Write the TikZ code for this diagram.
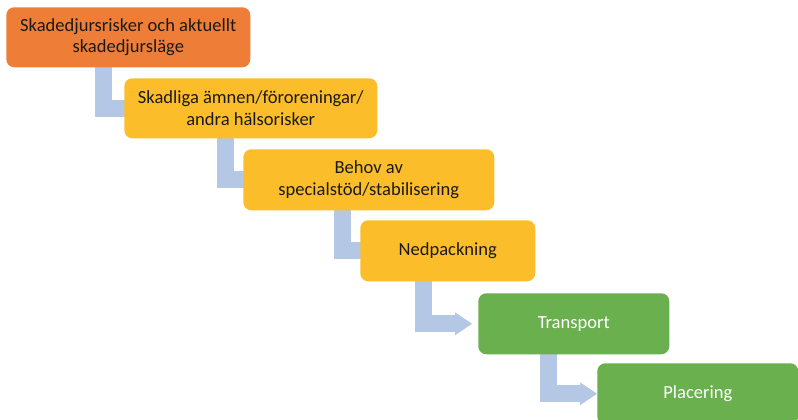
\documentclass[tikz,border=0pt]{standalone}
\usepackage{fontspec}
\setmainfont{Carlito}
\usepackage{tikz}
\usetikzlibrary{arrows.meta,backgrounds}

\definecolor{stepOrange}{HTML}{EE7D37}
\definecolor{stepYellow}{HTML}{FBBE2A}
\definecolor{stepGreen}{HTML}{6BB04F}
\definecolor{stepText}{HTML}{1A1A1A}
\definecolor{connBlue}{HTML}{B4C8E6}

\tikzset{
  stepbox/.style={draw=none, rounded corners=6pt, inner sep=0.75pt, align=center,
    anchor=north west, text=stepText, minimum height=45.75pt,
    font=\fontsize{13.9pt}{16pt}\selectfont},
  bentarrow/.style={draw=connBlue, line width=12.75pt, line join=miter,
    -{Triangle[length=12.75pt,width=17.25pt,line width=0pt]}},
}

\begin{document}
\begin{tikzpicture}[x=0.75pt,y=0.75pt,yscale=-1,xscale=1]
\clip (0,0) rectangle (798,420);

%Rounded Rect
\node [stepbox, fill=stepOrange, minimum width=183pt, minimum height=45pt] (risker) at (6,7) {Skadedjursrisker och aktuellt\\skadedjursläge};
%Rounded Rect
\node [stepbox, fill=stepYellow, minimum width=189.75pt, minimum height=45pt] (amnen) at (124,78) {Skadliga ämnen/föroreningar/\\andra hälsorisker};
%Rounded Rect
\node [stepbox, fill=stepYellow, minimum width=188.25pt] (stod) at (243,149) {Behov av\\specialstöd/stabilisering};
%Rounded Rect
\node [stepbox, fill=stepYellow, minimum width=131.25pt] (nedpack) at (360,220) {Nedpackning};
%Rounded Rect
\node [stepbox, fill=stepGreen, text=white, minimum width=143.25pt] (transport) at (478,293) {Transport};
%Rounded Rect
\node [stepbox, fill=stepGreen, text=white, minimum width=150.75pt] (placering) at (597,363) {Placering};

%Bent Arrows
\begin{scope}[on background layer]
\draw [bentarrow] (103.5,0 |- risker.center) |- ([xshift=22pt]amnen.west) ;
\draw [bentarrow] (225,0 |- amnen.center) |- ([xshift=22pt]stod.west) ;
\draw [bentarrow] (342.5,0 |- stod.center) |- ([xshift=22pt]nedpack.west) ;
\draw [bentarrow] (423,0 |- nedpack.center) |- ([xshift=-4.5pt]transport.west) ;
\draw [bentarrow] (548.5,0 |- transport.center) |- (placering.west) ;
\end{scope}

\end{tikzpicture}
\end{document}
